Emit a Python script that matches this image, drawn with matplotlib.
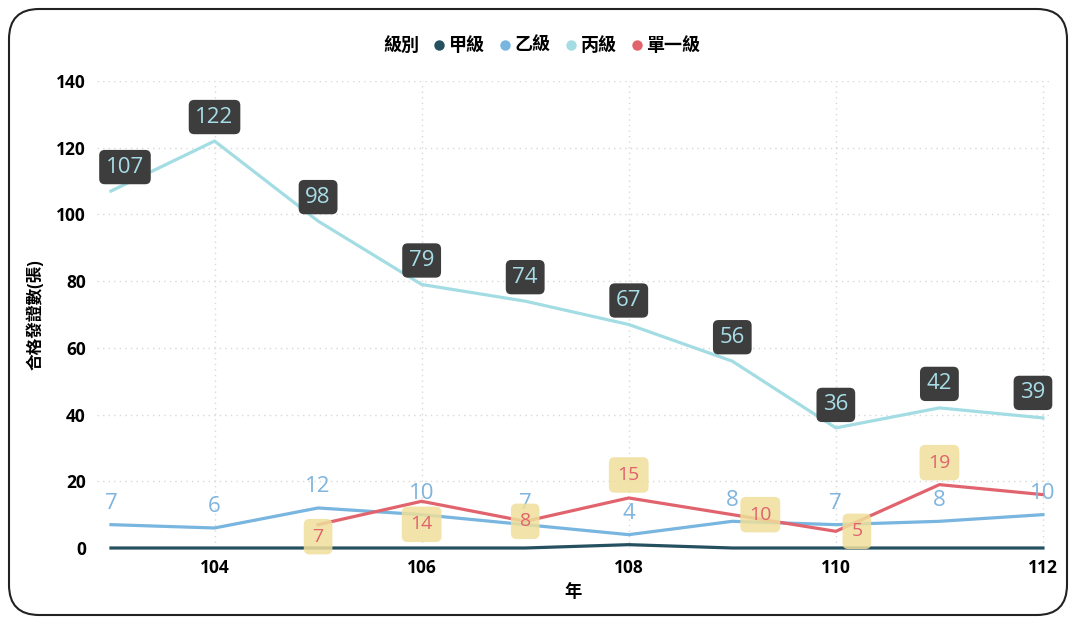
import matplotlib.pyplot as plt
from matplotlib.patches import FancyBboxPatch
from matplotlib.lines import Line2D

plt.rcParams['font.family'] = ['Open Sans', 'Noto Sans CJK TC', 'DejaVu Sans']

years = [103, 104, 105, 106, 107, 108, 109, 110, 111, 112]
jia = [0, 0, 0, 0, 0, 1, 0, 0, 0, 0]
yi = [7, 6, 12, 10, 7, 4, 8, 7, 8, 10]
bing = [107, 122, 98, 79, 74, 67, 56, 36, 42, 39]
single_years = [105, 106, 107, 108, 109, 110, 111, 112]
single = [7, 14, 8, 15, 10, 5, 19, 16]

names = ['甲級', '乙級', '丙級', '單一級']
colors = ['#24505f', '#78b5df', '#a3dde3', '#e0636e']

# label offsets in pixels (collision avoidance like the original)
bing_off = [(14, 24), (0, 24), (0, 24), (0, 24), (0, 24), (0, 24), (0, 24), (0, 23), (0, 24), (-10, 25)]
single_off = [(0, -12), (0, -23), (0, 0), (0, 23), (28, 0), (21, 0), (0, 22), None]

fig = plt.figure(figsize=(10.76, 6.21), dpi=100)
frame = FancyBboxPatch((9 / 1076, 6 / 621), 1058 / 1076, 606 / 621,
                       boxstyle='round,pad=0,rounding_size=0.028',
                       transform=fig.transFigure, facecolor='white',
                       edgecolor='#222222', linewidth=1.5,
                       mutation_aspect=1076 / 621, zorder=-5)
fig.patches.append(frame)

ax = fig.add_axes([97 / 1076, 1 - 548 / 621, (1050 - 97) / 1076, (548 - 81) / 621])
ax.set_facecolor('none')
ax.set_xlim(102.865, 112.068)
ax.set_ylim(0, 140)

ax.plot(years, bing, color=colors[2], lw=2.3, clip_on=False, zorder=3)
ax.plot(years, yi, color=colors[1], lw=2.3, clip_on=False, zorder=3)
ax.plot(single_years, single, color=colors[3], lw=2.3, clip_on=False, zorder=3)
ax.plot(years, jia, color=colors[0], lw=2.3, clip_on=False, zorder=4)

for x, v, (dx, dy) in zip(years, bing, bing_off):
    ax.annotate(str(v), (x, v), xytext=(dx, dy), textcoords='offset pixels',
                ha='center', va='center', fontsize=16, color='#a8dde8', zorder=6,
                bbox=dict(boxstyle='round,pad=0.3,rounding_size=0.25', fc='#3d3d3d', ec='none'))

for x, v in zip(years, yi):
    ax.annotate(str(v), (x, v), xytext=(0, 21), textcoords='offset pixels',
                ha='center', va='center', fontsize=16, color='#7fb4de', zorder=5)

for x, v, off in zip(single_years, single, single_off):
    if off is None:
        continue
    ax.annotate(str(v), (x, v), xytext=off, textcoords='offset pixels',
                ha='center', va='center', fontsize=14, color='#e0636e', zorder=6,
                bbox=dict(boxstyle='round,pad=0.45,rounding_size=0.3', fc='#efdf9a',
                          ec='none', alpha=0.85))

ax.set_xticks([104, 106, 108, 110, 112])
ax.set_yticks(range(0, 141, 20))
ax.tick_params(length=0, labelsize=12.5, pad=8)
for lab in ax.get_xticklabels() + ax.get_yticklabels():
    lab.set_fontweight('bold')
ax.grid(True, color='#d8d8d8', linestyle=(0, (1, 3)), linewidth=1)
for s in ax.spines.values():
    s.set_visible(False)

ax.set_xlabel('年', fontsize=12.5, fontweight='bold', labelpad=4)
ax.set_ylabel('合格發證數(張)', fontsize=12, fontweight='bold', labelpad=8)

fig.text(401 / 1076, 1 - 46 / 621, '級別', fontsize=13, fontweight='bold',
         ha='center', va='center')
handles = [Line2D([], [], marker='o', linestyle='none', markersize=7.5,
                  markerfacecolor=c, markeredgecolor='none') for c in colors]
leg = fig.legend(handles, names, loc='center left', bbox_to_anchor=(422 / 1076, 1 - 46 / 621),
                 ncol=4, frameon=False, handletextpad=0.0, columnspacing=0.55,
                 handlelength=1.1, borderaxespad=0,
                 prop={'weight': 'bold', 'size': 13})

fig.savefig('out.png', dpi=100)
